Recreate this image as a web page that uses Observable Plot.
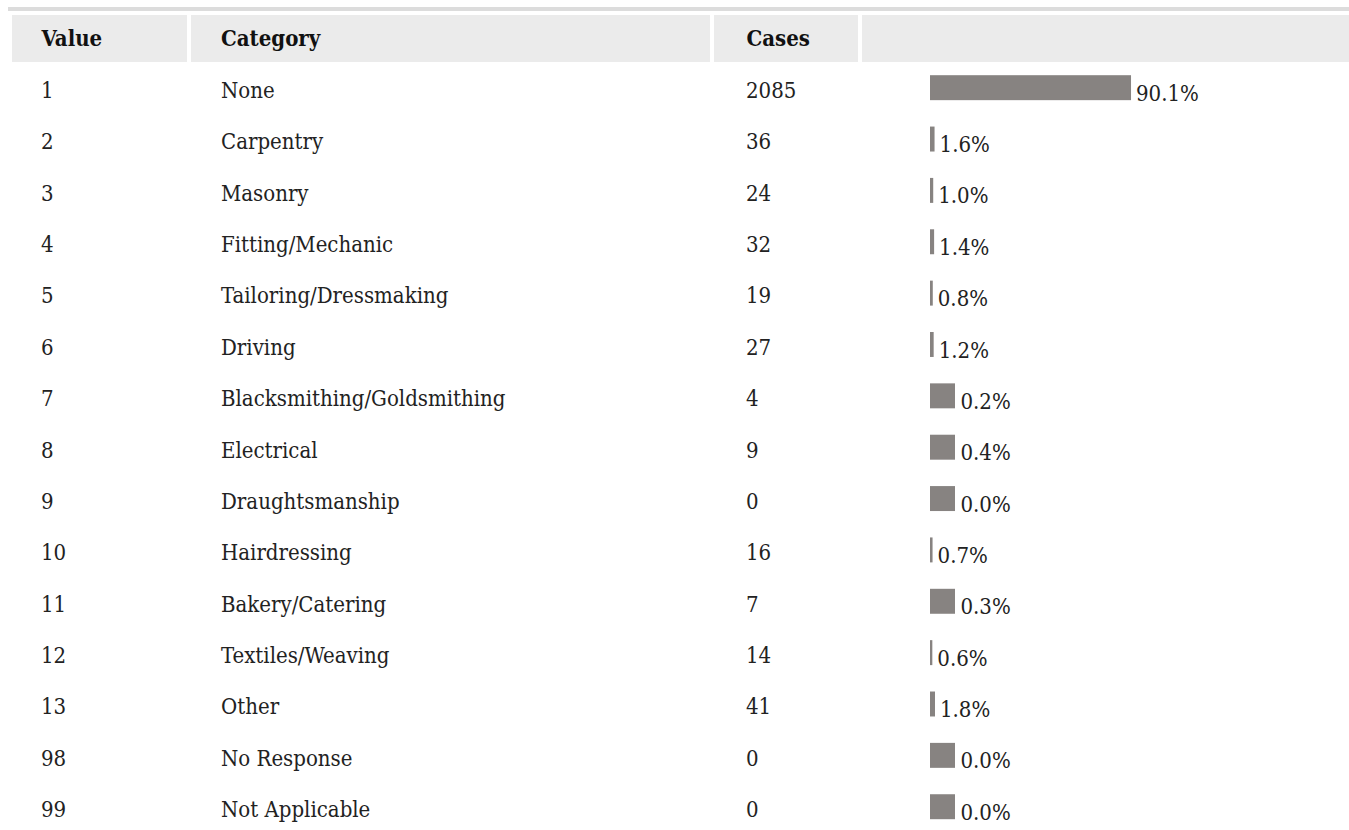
<!DOCTYPE html>
<html>
<head>
<meta charset="utf-8">
<script src="https://cdn.jsdelivr.net/npm/d3@7"></script>
<script src="https://cdn.jsdelivr.net/npm/@observablehq/plot@0.6"></script>
<style>
  html, body { margin: 0; padding: 0; background: #fff; overflow: hidden; }
  body { font-family: "DejaVu Serif Condensed", "DejaVu Serif", serif; font-stretch: condensed; color: #222; }
  #topline { position: absolute; left: 8px; top: 7px; width: 1341px; height: 4px; background: #dcdcdc; }
  .h { position: absolute; top: 15px; height: 47px; background: #ebebeb; font-weight: bold; font-size: 22px; line-height: 47px; box-sizing: border-box; color: #111; white-space: nowrap; }
  #chart svg { display: block; background: none; }
</style>
</head>
<body>
<div id="chart"></div>
<div id="topline"></div>
<div class="h" style="left:12px;width:175px;padding-left:29.5px;">Value</div>
<div class="h" style="left:191px;width:519px;padding-left:30px;">Category</div>
<div class="h" style="left:714px;width:144px;padding-left:32.5px;">Cases</div>
<div class="h" style="left:862px;width:487px;"></div>
<script>
const values = ["1", "2", "3", "4", "5", "6", "7", "8", "9", "10", "11", "12", "13", "98", "99"];
const categories = ["None", "Carpentry", "Masonry", "Fitting/Mechanic", "Tailoring/Dressmaking", "Driving",
  "Blacksmithing/Goldsmithing", "Electrical", "Draughtsmanship", "Hairdressing", "Bakery/Catering",
  "Textiles/Weaving", "Other", "No Response", "Not Applicable"];
const cases = [2085, 36, 24, 32, 19, 27, 4, 9, 0, 16, 7, 14, 41, 0, 0];
const percents = [90.1, 1.6, 1.0, 1.4, 0.8, 1.2, 0.2, 0.4, 0.0, 0.7, 0.3, 0.6, 1.8, 0.0, 0.0];

const rows = values.map((v, i) => ({value: v, category: categories[i], cases: cases[i], pct: percents[i]}));
const bigRows = rows.filter(d => d.pct >= 0.5);
const smallRows = rows.filter(d => d.pct < 0.5);

const FONT = "'DejaVu Serif Condensed', 'DejaVu Serif', serif";
const textOpts = {fontSize: 22, fontFamily: FONT, fill: "#222", textAnchor: "start", frameAnchor: "left", dy: 2.8};
const barFill = "#878381";
const pctLabel = d => d.pct.toFixed(1) + "%";

const plot = Plot.plot({
  width: 1349,
  height: 830,
  margin: 0,
  style: {fontFamily: FONT, fontSize: "22px", background: "none", overflow: "visible"},
  x: {type: "linear", domain: [0, 100], range: [930, 1152], axis: null},
  y: {type: "band", domain: values, range: [62, 832.4], padding: 0, round: false, axis: null},
  marks: [
    Plot.text(rows, {...textOpts, y: "value", text: "value", dx: 40.5}),
    Plot.text(rows, {...textOpts, y: "value", text: "category", dx: 220.5}),
    Plot.text(rows, {...textOpts, y: "value", text: d => String(d.cases), dx: 745.5}),
    Plot.barX(bigRows, {x1: () => 0, x2: "pct", y: "value", fill: barFill, insetTop: 13.2, insetBottom: 13.2, insetRight: -1}),
    Plot.barX(smallRows, {x1: () => 0, x2: () => 0, y: "value", fill: barFill, insetTop: 13.2, insetBottom: 13.2, insetRight: -25}),
    Plot.text(bigRows, {x: "pct", y: "value", text: pctLabel, fontSize: 22, fontFamily: FONT, fill: "#222", textAnchor: "start", dx: 5.5, dy: 5.5}),
    Plot.text(smallRows, {x: () => 0, y: "value", text: pctLabel, fontSize: 22, fontFamily: FONT, fill: "#222", textAnchor: "start", dx: 30, dy: 5.5})
  ]
});
document.getElementById("chart").appendChild(plot);
</script>
</body>
</html>
